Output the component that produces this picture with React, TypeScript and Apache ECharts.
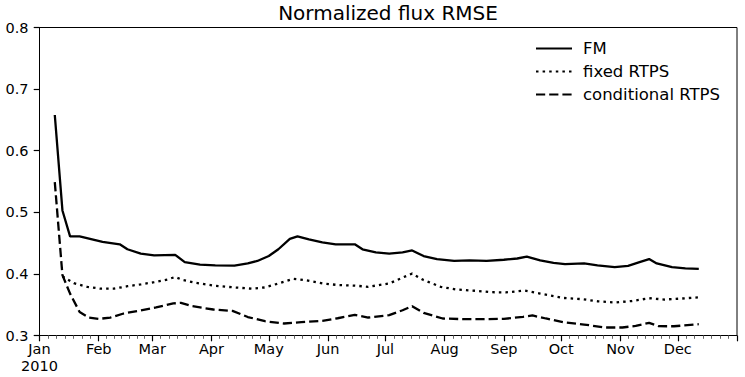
import React, { useEffect, useRef } from "react";
import * as echarts from "echarts";

const chartTitle = "Normalized flux RMSE";
const seriesNames = ["FM", "fixed RTPS", "conditional RTPS"];
const monthLabels = ["Jan", "Feb", "Mar", "Apr", "May", "Jun", "Jul", "Aug", "Sep", "Oct", "Nov", "Dec"];
const yTickValues = [0.3, 0.4, 0.5, 0.6, 0.7, 0.8];

const fmDates = [
  "2010-01-09", "2010-01-13", "2010-01-17", "2010-01-22", "2010-02-03", "2010-02-12", "2010-02-16",
  "2010-02-23", "2010-03-02", "2010-03-13", "2010-03-18", "2010-03-26", "2010-04-03", "2010-04-13",
  "2010-04-20", "2010-04-25", "2010-05-01", "2010-05-06", "2010-05-12", "2010-05-16", "2010-05-22",
  "2010-05-29", "2010-06-05", "2010-06-15", "2010-06-19", "2010-06-26", "2010-07-03", "2010-07-10",
  "2010-07-15", "2010-07-21", "2010-07-28", "2010-08-06", "2010-08-14", "2010-08-23", "2010-09-01",
  "2010-09-08", "2010-09-13", "2010-09-20", "2010-09-27", "2010-10-03", "2010-10-13", "2010-10-20",
  "2010-10-29", "2010-11-05", "2010-11-11", "2010-11-16", "2010-11-20", "2010-11-28", "2010-12-05",
  "2010-12-12",
];
const fmValues = [
  0.658, 0.503, 0.461, 0.461, 0.452, 0.448, 0.44,
  0.433, 0.43, 0.431, 0.419, 0.415, 0.414, 0.4135,
  0.417, 0.421, 0.429, 0.44, 0.457, 0.461, 0.456,
  0.451, 0.448, 0.448, 0.44, 0.435, 0.433, 0.435,
  0.438, 0.429, 0.424, 0.421, 0.422, 0.421, 0.423,
  0.425, 0.428, 0.422, 0.418, 0.416, 0.417, 0.414,
  0.411, 0.413, 0.419, 0.424, 0.417, 0.411, 0.409,
  0.408,
];

const fixedDates = [
  "2010-01-13", "2010-01-19", "2010-01-26", "2010-02-02", "2010-02-09", "2010-02-16", "2010-02-23",
  "2010-03-02", "2010-03-09", "2010-03-13", "2010-03-17", "2010-03-24", "2010-04-02", "2010-04-13",
  "2010-04-22", "2010-04-29", "2010-05-06", "2010-05-14", "2010-05-20", "2010-05-29", "2010-06-06",
  "2010-06-15", "2010-06-22", "2010-07-03", "2010-07-10", "2010-07-15", "2010-07-21", "2010-07-30",
  "2010-08-07", "2010-08-18", "2010-08-25", "2010-09-02", "2010-09-12", "2010-09-20", "2010-10-02",
  "2010-10-12", "2010-10-20", "2010-10-29", "2010-11-07", "2010-11-16", "2010-11-24", "2010-12-03",
  "2010-12-12",
];
const fixedValues = [
  0.396, 0.385, 0.379, 0.376, 0.376, 0.38, 0.383,
  0.3865, 0.391, 0.395, 0.39, 0.3855, 0.381, 0.378,
  0.376, 0.378, 0.3845, 0.392, 0.39, 0.3845, 0.382,
  0.381, 0.379, 0.3845, 0.394, 0.4005, 0.39, 0.379,
  0.3747, 0.3724, 0.3703, 0.37, 0.373, 0.368, 0.361,
  0.359, 0.3556, 0.3536, 0.356, 0.3605, 0.3584, 0.36,
  0.362,
];

const condDates = [
  "2010-01-09", "2010-01-13", "2010-01-17", "2010-01-22", "2010-01-27", "2010-02-01", "2010-02-07",
  "2010-02-14", "2010-02-23", "2010-03-03", "2010-03-12", "2010-03-16", "2010-03-22", "2010-04-02",
  "2010-04-12", "2010-04-20", "2010-04-29", "2010-05-09", "2010-05-18", "2010-05-29", "2010-06-06",
  "2010-06-15", "2010-06-22", "2010-07-03", "2010-07-10", "2010-07-15", "2010-07-21", "2010-07-31",
  "2010-08-11", "2010-08-21", "2010-09-01", "2010-09-11", "2010-09-16", "2010-09-23", "2010-10-02",
  "2010-10-13", "2010-10-24", "2010-11-02", "2010-11-09", "2010-11-16", "2010-11-21", "2010-11-29",
  "2010-12-12",
];
const condValues = [
  0.549, 0.398, 0.368, 0.338, 0.329, 0.327, 0.329,
  0.3357, 0.3406, 0.3455, 0.352, 0.353, 0.3476, 0.3422,
  0.34, 0.33, 0.3232, 0.3195, 0.3216, 0.3237, 0.328,
  0.3335, 0.3292, 0.333, 0.341, 0.3476, 0.3367, 0.3276,
  0.3265, 0.3265, 0.327, 0.3302, 0.3325, 0.3276, 0.3216,
  0.3178, 0.313, 0.313, 0.3156, 0.3205, 0.3151, 0.315,
  0.3183,
];

const FONT = "DejaVu Sans";
const DAY = 86400000;
const ORIGIN = Date.UTC(2010, 0, 1);

// days since 2010-01-01
function dayOf(s: string): number {
  const [y, m, d] = s.split("-").map(Number);
  return Math.round((Date.UTC(y, m - 1, d) - ORIGIN) / DAY);
}
function dayOfYM(y: number, m: number): number {
  return Math.round((Date.UTC(y, m, 1) - ORIGIN) / DAY);
}

export default function App() {
  const ref = useRef<HTMLDivElement>(null);

  useEffect(() => {
    if (!ref.current) return;
    const chart = echarts.init(ref.current, null, { renderer: "svg" });

    const majorTicks: number[] = [];
    for (let m = 0; m <= 12; m++) majorTicks.push(dayOfYM(2010, m));
    const xMin = majorTicks[0];
    const xMax = majorTicks[12];
    const minorTicks: number[] = [];
    for (let i = 0; i < 12; i++) {
      const a = majorTicks[i];
      const b = majorTicks[i + 1];
      for (let k = 1; k < 7; k++) minorTicks.push(a + ((b - a) * k) / 7);
    }

    const mk = (dates: string[], vals: number[]) => dates.map((d, i) => [dayOf(d), vals[i]]);

    const fmtX = (v: number) => {
      const idx = majorTicks.indexOf(Math.round(v));
      if (idx < 0 || idx >= 12) return "";
      return idx === 0 ? monthLabels[0] + "\n2010" : monthLabels[idx];
    };

    const lineW = 2.3;

    const option: any = {
      animation: false,
      backgroundColor: "#fff",
      textStyle: { fontFamily: FONT },
      graphic: [
        {
          type: "text",
          x: 388,
          y: 13,
          style: {
            text: chartTitle,
            fontFamily: FONT,
            fontSize: 20,
            fill: "#000",
            textAlign: "center",
            textVerticalAlign: "middle",
          },
        },
      ],
      grid: {
        left: 39.5,
        right: 8,
        top: 27.5,
        bottom: 41.5,
        show: true,
        borderColor: "#000",
        borderWidth: 1,
        backgroundColor: "transparent",
      },
      legend: {
        orient: "vertical",
        left: 535,
        top: 40,
        padding: 0,
        itemWidth: 36,
        itemHeight: 14,
        itemGap: 6,
        itemStyle: { opacity: 0 },
        textStyle: {
          fontFamily: FONT,
          fontSize: 16.5,
          lineHeight: 16,
          color: "#000",
          padding: [0, 0, 0, 6],
        },
        data: seriesNames,
      },
      xAxis: [
        {
          type: "value",
          min: xMin,
          max: xMax,
          splitLine: { show: false },
          axisLine: { show: true, onZero: false, lineStyle: { color: "#000", width: 1 } },
          axisTick: {
            show: true,
            inside: false,
            length: 5.8,
            lineStyle: { color: "#000", width: 1.2 },
            customValues: majorTicks,
          },
          axisLabel: {
            show: true,
            margin: 5,
            fontFamily: FONT,
            fontSize: 14.5,
            lineHeight: 17,
            color: "#000",
            customValues: majorTicks,
            formatter: fmtX,
          },
        },
        {
          type: "value",
          min: xMin,
          max: xMax,
          position: "bottom",
          splitLine: { show: false },
          axisLine: { show: false, onZero: false },
          axisTick: {
            show: true,
            inside: false,
            length: 3.3,
            lineStyle: { color: "#666", width: 1 },
            customValues: minorTicks,
          },
          axisLabel: { show: false },
        },
      ],
      yAxis: {
        type: "value",
        min: 0.3,
        max: 0.8,
        interval: 0.1,
        splitLine: { show: false },
        axisLine: { show: true, onZero: false, lineStyle: { color: "#000", width: 1 } },
        axisTick: {
          show: true,
          length: 5.8,
          lineStyle: { color: "#000", width: 1.2 },
          customValues: yTickValues,
        },
        axisLabel: {
          margin: 11,
          fontFamily: FONT,
          fontSize: 14.5,
          color: "#000",
          customValues: yTickValues,
          formatter: (v: number) => v.toFixed(1),
        },
      },
      series: [
        {
          name: seriesNames[0],
          type: "line",
          xAxisIndex: 0,
          symbol: "none",
          showSymbol: false,
          lineStyle: { color: "#000", width: lineW, type: "solid" },
          itemStyle: { color: "#000" },
          data: mk(fmDates, fmValues),
          z: 3,
        },
        {
          name: seriesNames[1],
          type: "line",
          xAxisIndex: 0,
          symbol: "none",
          showSymbol: false,
          lineStyle: { color: "#000", width: lineW, type: [2.5, 4.1] },
          itemStyle: { color: "#000" },
          data: mk(fixedDates, fixedValues),
          z: 4,
        },
        {
          name: seriesNames[2],
          type: "line",
          xAxisIndex: 0,
          symbol: "none",
          showSymbol: false,
          lineStyle: { color: "#000", width: lineW, type: [9.2, 4] },
          itemStyle: { color: "#000" },
          data: mk(condDates, condValues),
          z: 5,
        },
      ],
    };

    chart.setOption(option);
    return () => chart.dispose();
  }, []);

  return (
    <div
      ref={ref}
      style={{ position: "absolute", left: 0, top: 0, width: 745, height: 377 }}
    />
  );
}
